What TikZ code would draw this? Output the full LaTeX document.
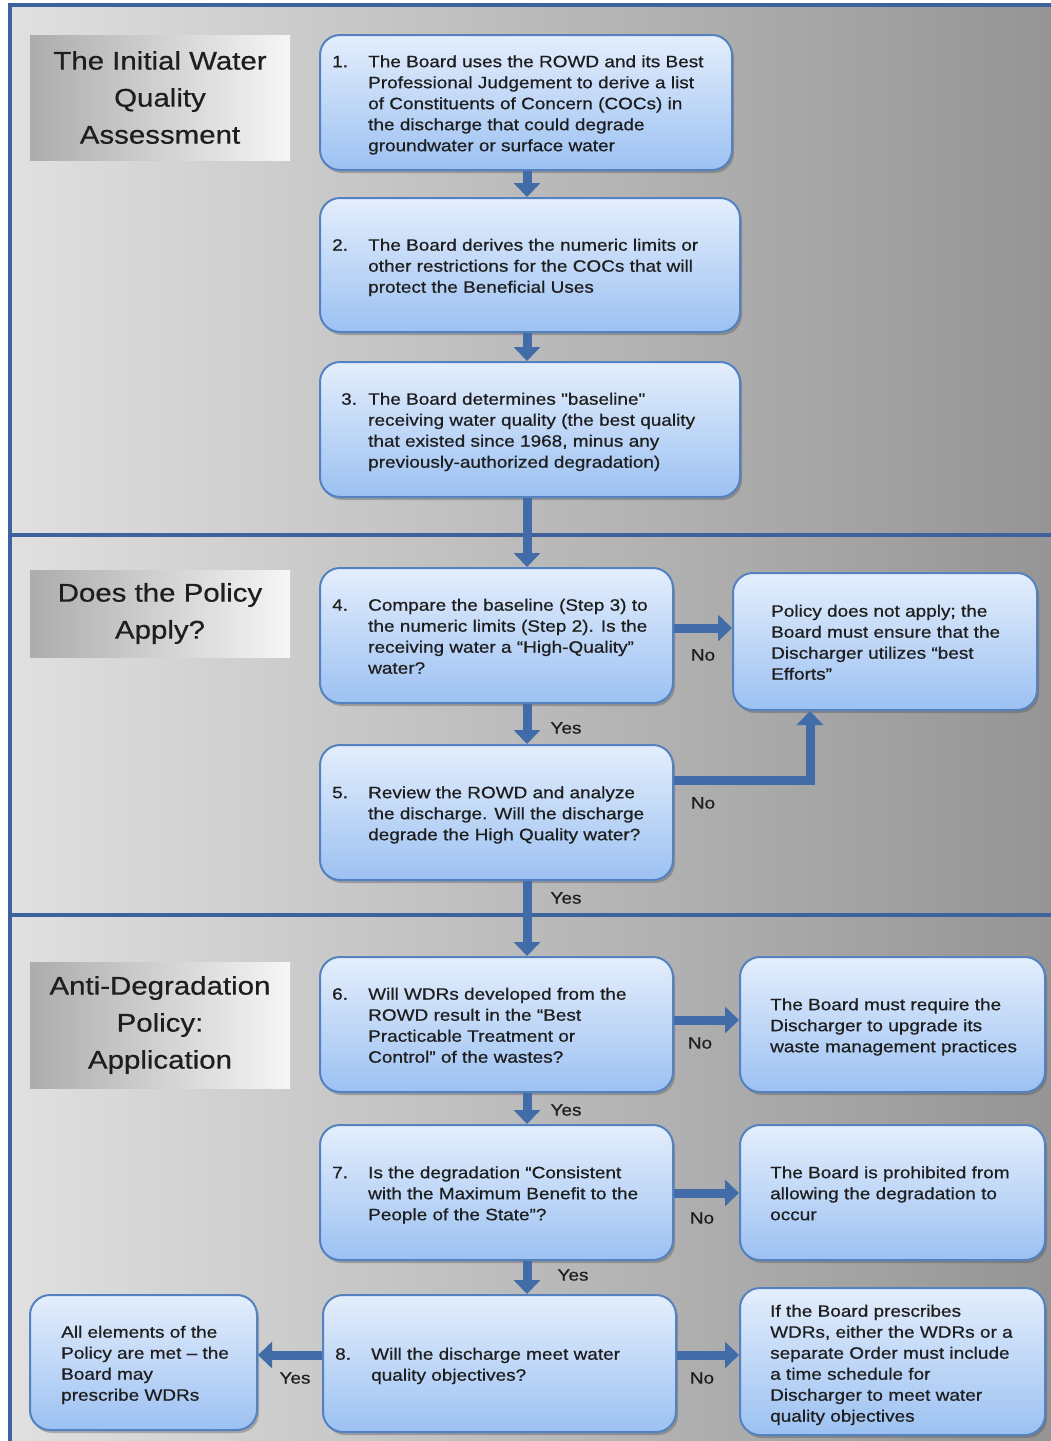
\documentclass[tikz,border=0pt]{standalone}
\usepackage{fontspec}
\setmainfont{Liberation Sans}[FakeStretch=1.15,FakeBold=0.6]
\newfontfamily\noligfont{Liberation Sans}[FakeStretch=1.15,FakeBold=0.6,Ligatures=TeXOff]
\usetikzlibrary{arrows.meta,shadows}
\definecolor{panelblue}{RGB}{62,98,158}
\definecolor{boxtop}{RGB}{228,238,252}
\definecolor{boxbot}{RGB}{156,193,242}
\definecolor{boxline}{RGB}{84,130,192}
\definecolor{arrowblue}{RGB}{66,108,168}
\definecolor{txt}{RGB}{30,30,30}
\definecolor{bgl}{RGB}{224,224,224}
\definecolor{bgr}{RGB}{148,148,148}
\definecolor{ttl}{RGB}{172,172,172}
\definecolor{ttr}{RGB}{246,246,246}
\newcommand\stepcontent[2]{\begin{tabular}{@{}l@{}l@{}}\makebox[36pt][l]{#1}&\begin{tabular}[t]{@{}l@{}}#2\end{tabular}\end{tabular}}
\newcommand\plaincontent[1]{\begin{tabular}{@{}l@{}}#1\end{tabular}}
\tikzset{
  stepbox/.style={draw=boxline, line width=2pt, rounded corners=20pt,
    top color=boxtop, bottom color=boxbot, inner sep=0pt,
    drop shadow={shadow xshift=2pt, shadow yshift=-3pt, opacity=0.35, fill=black!70}},
  txtnode/.style={inner sep=0pt, text=txt, font=\fontsize{16.5}{21}\selectfont, anchor=west, yshift=-2.5pt},
  titlebox/.style={inner sep=0pt, left color=ttl, right color=ttr, align=center,
    text=txt, font=\fontsize{25.6}{37}\selectfont},
  flow/.style={draw=arrowblue, line width=9pt, -{Triangle[width=26pt,length=14pt]}},
  lbl/.style={inner sep=0pt, text=txt, font=\fontsize{16.5}{21}\selectfont},
}
\begin{document}
\begin{tikzpicture}[x=1pt,y=-1pt]
\useasboundingbox (0,0) rectangle (1051,1441);
\clip (0,0) rectangle (1051,1441);
\fill[white] (0,0) rectangle (1051,1441);
% panels
\shade[left color=bgl, right color=bgr] (10,5) rectangle (1060,535);
\shade[left color=bgl, right color=bgr] (10,535) rectangle (1060,915);
\shade[left color=bgl, right color=bgr] (10,915) rectangle (1060,1460);
\draw[panelblue, line width=4pt] (10,1460) -- (10,5) -- (1060,5);
\draw[panelblue, line width=4pt] (10,535) -- (1060,535);
\draw[panelblue, line width=4pt] (10,915) -- (1060,915);

% titles
\node[titlebox, minimum width=260pt, minimum height=125pt] (h1) at (160,97.5) {The Initial Water\\Quality\\Assessment};
\node[titlebox, minimum width=260pt, minimum height=87pt] (h2) at (160,613.5) {Does the Policy\\Apply?};
\node[titlebox, minimum width=260pt, minimum height=126pt] (h3) at (160,1025) {Anti-Degradation\\Policy:\\Application};

% boxes
\node[stepbox, minimum width=412pt, minimum height=135pt] (b1) at (526,102.5) {};
\node[stepbox, minimum width=420pt, minimum height=134pt] (b2) at (530,265) {};
\node[stepbox, minimum width=420pt, minimum height=135pt] (b3) at (530,429.5) {};
\node[stepbox, minimum width=353pt, minimum height=135pt] (b4) at (496.5,635.5) {};
\node[stepbox, minimum width=304pt, minimum height=137pt] (pol) at (885,641.5) {};
\node[stepbox, minimum width=353pt, minimum height=135pt] (b5) at (496.5,812.5) {};
\node[stepbox, minimum width=353pt, minimum height=135pt] (b6) at (496.5,1024.5) {};
\node[stepbox, minimum width=305pt, minimum height=135pt] (upg) at (892.5,1024.5) {};
\node[stepbox, minimum width=353pt, minimum height=135pt] (b7) at (496.5,1192.5) {};
\node[stepbox, minimum width=305pt, minimum height=135pt] (pro) at (892.5,1192.5) {};
\node[stepbox, minimum width=353pt, minimum height=137pt] (b8) at (499.5,1363.5) {};
\node[stepbox, minimum width=227pt, minimum height=135pt] (allm) at (143.5,1362.5) {};
\node[stepbox, minimum width=305pt, minimum height=147pt] (ifb) at (892.5,1361.5) {};

% texts
\node[txtnode, xshift=13pt] (t1) at (b1.west) {\stepcontent{1.}{The Board uses the ROWD and its Best\\Professional Judgement to derive a list\\of Constituents of Concern (COCs) in\\the discharge that could degrade\\groundwater or surface water}};
\node[txtnode, xshift=13pt] (t2) at (b2.west) {\stepcontent{2.}{The Board derives the numeric limits or\\other restrictions for the COCs that will\\protect the Beneficial Uses}};
\node[txtnode, xshift=22pt] (t3) at (b3.west) {\begin{tabular}{@{}l@{}l@{}}\makebox[27pt][l]{3.}&\begin{tabular}[t]{@{}l@{}}The Board determines {\noligfont"baseline"}\\receiving water quality (the best quality\\that existed since 1968, minus any\\previously-authorized degradation)\end{tabular}\end{tabular}};
\node[txtnode, xshift=13pt] (t4) at (b4.west) {\stepcontent{4.}{Compare the baseline (Step 3) to\\the numeric limits (Step 2). Is the\\receiving water a “High-Quality”\\water?}};
\node[txtnode, xshift=39pt] (tp) at (pol.west) {\plaincontent{Policy does not apply; the\\Board must ensure that the\\Discharger utilizes “best\\Efforts”}};
\node[txtnode, xshift=13pt] (t5) at (b5.west) {\stepcontent{5.}{Review the ROWD and analyze\\the discharge. Will the discharge\\degrade the High Quality water?}};
\node[txtnode, xshift=13pt] (t6) at (b6.west) {\stepcontent{6.}{Will WDRs developed from the\\ROWD result in the “Best\\Practicable Treatment or\\Control” of the wastes?}};
\node[txtnode, xshift=31pt] (tu) at (upg.west) {\plaincontent{The Board must require the\\Discharger to upgrade its\\waste management practices}};
\node[txtnode, xshift=13pt] (t7) at (b7.west) {\stepcontent{7.}{Is the degradation “Consistent\\with the Maximum Benefit to the\\People of the State”?}};
\node[txtnode, xshift=31pt] (tr) at (pro.west) {\plaincontent{The Board is prohibited from\\allowing the degradation to\\occur}};
\node[txtnode, xshift=13pt] (t8) at (b8.west) {\stepcontent{8.}{Will the discharge meet water\\quality objectives?}};
\node[txtnode, xshift=32pt] (ta) at (allm.west) {\plaincontent{All elements of the\\Policy are met – the\\Board may\\prescribe WDRs}};
\node[txtnode, xshift=31pt] (ti) at ([yshift=-1pt]ifb.west) {\plaincontent{If the Board prescribes\\WDRs, either the WDRs or a\\separate Order must include\\a time schedule for\\Discharger to meet water\\quality objectives}};

% helper coordinates
\coordinate (cx) at (527,0);
\coordinate (y4) at (0,628);
\coordinate (y5) at (0,780);
\coordinate (x5) at (810,0);
\coordinate (y6) at (0,1020);
\coordinate (y7) at (0,1193);
\coordinate (y8) at (0,1355);

% connectors
\draw[flow] (b1.south -| cx) -- (b2.north -| cx);
\draw[flow] (b2.south -| cx) -- (b3.north -| cx);
\draw[flow] (b3.south -| cx) -- (b4.north -| cx);
\draw[flow] (b4.south -| cx) -- (b5.north -| cx);
\draw[flow] (b5.south -| cx) -- (b6.north -| cx);
\draw[flow] (b6.south -| cx) -- (b7.north -| cx);
\draw[flow] (b7.south -| cx) -- (b8.north -| cx);
\draw[flow] (b4.east |- y4) -- (pol.west |- y4);
\draw[flow] (b5.east |- y5) -| (pol.south -| x5);
\draw[flow] (b6.east |- y6) -- (upg.west |- y6);
\draw[flow] (b7.east |- y7) -- (pro.west |- y7);
\draw[flow] (b8.east |- y8) -- (ifb.west |- y8);
\draw[flow] (b8.west |- y8) -- (allm.east |- y8);

% labels
\node[lbl] (l4y) at (566,728) {Yes};
\node[lbl] (l4n) at (703,655) {No};
\node[lbl] (l5n) at (703,803) {No};
\node[lbl] (l5y) at (566,898) {Yes};
\node[lbl] (l6n) at (700,1043) {No};
\node[lbl] (l6y) at (566,1110) {Yes};
\node[lbl] (l7n) at (702,1218) {No};
\node[lbl] (l7y) at (573,1275) {Yes};
\node[lbl] (l8n) at (702,1378) {No};
\node[lbl] (l8y) at (295,1378) {Yes};
\end{tikzpicture}
\end{document}
